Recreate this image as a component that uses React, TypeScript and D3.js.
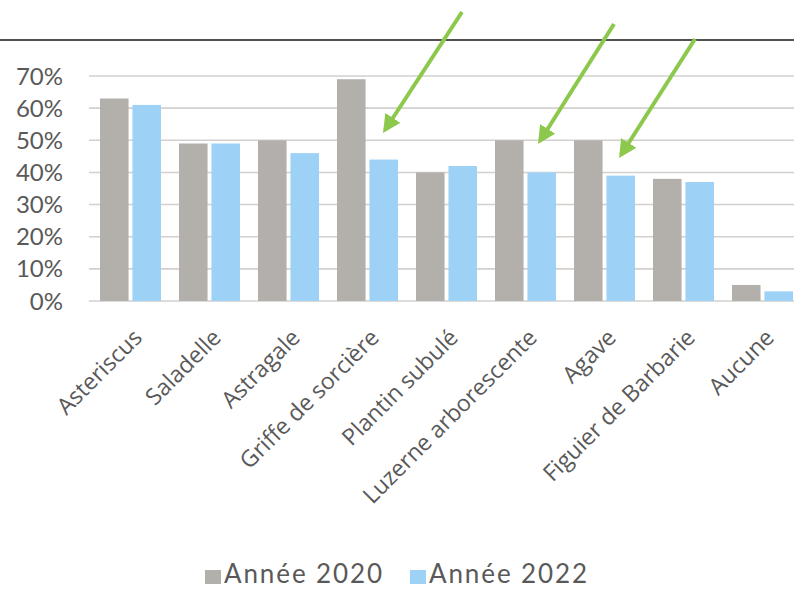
import { useRef, useEffect } from "react";
import * as d3 from "d3";

const categories = [
  "Asteriscus",
  "Saladelle",
  "Astragale",
  "Griffe de sorcière",
  "Plantin subulé",
  "Luzerne arborescente",
  "Agave",
  "Figuier de Barbarie",
  "Aucune",
];
const values2020 = [0.63, 0.49, 0.5, 0.69, 0.4, 0.5, 0.5, 0.38, 0.05];
const values2022 = [0.61, 0.49, 0.46, 0.44, 0.42, 0.4, 0.39, 0.37, 0.03];
const seriesNames = ["Année 2020", "Année 2022"];
const yTicks = [0, 0.1, 0.2, 0.3, 0.4, 0.5, 0.6, 0.7];
// green arrows pointing at the 2022 bars: [category, start x, start y, tip x, tip y]
const arrows: [string, number, number, number, number][] = [
  ["Griffe de sorcière", 462, 12, 385, 130],
  ["Luzerne arborescente", 614, 24, 540, 141],
  ["Agave", 695, 39, 621, 155],
];

const colors = ["#b3b0ac", "#9dd1f6"];

const App = () => {
  const chartRef = useRef(null);

  useEffect(() => {
    document.body.style.margin = "0";
    const el = chartRef.current;
    const W = 794;
    const H = 590;

    const svg = d3
      .select(el)
      .append("svg")
      .attr("width", W)
      .attr("height", H)
      .style("display", "block")
      .style("background", "#fff");

    const x0 = d3
      .scaleBand<string>()
      .domain(categories)
      .range([91, 802])
      .paddingInner(0.228)
      .paddingOuter(0.114);

    const x1 = d3
      .scaleBand<string>()
      .domain(seriesNames)
      .range([0, x0.bandwidth()])
      .paddingInner(0.12);

    const y = d3.scaleLinear().domain([0, 0.7]).range([301, 76]);

    // top rule
    svg
      .append("line")
      .attr("x1", 0)
      .attr("x2", W)
      .attr("y1", 40)
      .attr("y2", 40)
      .attr("stroke", "#505050")
      .attr("stroke-width", 2);

    // grid
    svg
      .append("g")
      .selectAll("line")
      .data(yTicks)
      .enter()
      .append("line")
      .attr("x1", 89)
      .attr("x2", W)
      .attr("y1", d => y(d))
      .attr("y2", d => y(d))
      .attr("stroke", "#d3d0ce")
      .attr("stroke-width", 1.6);

    // y labels
    svg
      .append("g")
      .selectAll("text")
      .data(yTicks)
      .enter()
      .append("text")
      .attr("x", 63)
      .attr("y", d => y(d))
      .attr("dy", "0.36em")
      .attr("text-anchor", "end")
      .attr("font-family", "Lato, sans-serif")
      .attr("font-size", 24)
      .attr("fill", "#595959")
      .text(d => d3.format(".0%")(d));

    // bars
    const series = [values2020, values2022];
    const groups = svg
      .append("g")
      .selectAll("g")
      .data(categories)
      .enter()
      .append("g")
      .attr("transform", d => `translate(${x0(d)}, 0)`);

    groups
      .selectAll("rect")
      .data((_d, i) => series.map((s, k) => ({ name: seriesNames[k], v: s[i], k })))
      .enter()
      .append("rect")
      .attr("x", d => x1(d.name) as number)
      .attr("y", d => y(d.v))
      .attr("width", x1.bandwidth())
      .attr("height", d => y(0) - y(d.v))
      .attr("fill", d => colors[d.k]);

    // x labels
    svg
      .append("g")
      .selectAll("text")
      .data(categories)
      .enter()
      .append("text")
      .attr(
        "transform",
        d => `translate(${(x0(d) as number) + x0.bandwidth() / 2 + 13}, 339) rotate(-45)`
      )
      .attr("text-anchor", "end")
      .attr("font-family", "'Open Sans', sans-serif")
      .attr("font-size", 23)
      .attr("fill", "#595959")
      .text(d => d);

    // legend
    const legend = svg.append("g").attr("transform", "translate(205, 583)");
    const legendX = [0, 205];
    seriesNames.forEach((name, k) => {
      legend
        .append("rect")
        .attr("x", legendX[k])
        .attr("y", -13)
        .attr("width", 16)
        .attr("height", 14)
        .attr("fill", colors[k]);
      legend
        .append("text")
        .attr("x", legendX[k] + 19)
        .attr("y", 0)
        .attr("font-family", "Lato, sans-serif")
        .attr("font-size", 26)
        .attr("letter-spacing", 1.9)
        .attr("fill", "#595959")
        .text(name);
    });

    // arrows
    svg
      .append("defs")
      .append("marker")
      .attr("id", "arrowhead")
      .attr("viewBox", "0 0 10 10")
      .attr("refX", 8)
      .attr("refY", 5)
      .attr("markerWidth", 4.5)
      .attr("markerHeight", 4.5)
      .attr("orient", "auto")
      .append("path")
      .attr("d", "M0,0 L10,5 L0,10 z")
      .attr("fill", "#8cc84b");

    svg
      .append("g")
      .selectAll("line")
      .data(arrows)
      .enter()
      .append("line")
      .attr("x1", d => d[1])
      .attr("y1", d => d[2])
      .attr("x2", d => d[3])
      .attr("y2", d => d[4])
      .attr("stroke", "#8cc84b")
      .attr("stroke-width", 4)
      .attr("marker-end", "url(#arrowhead)");

    return () => {
      d3.select(el).select("svg").remove();
    };
  }, []);

  return <div ref={chartRef}></div>;
};

export default App;
